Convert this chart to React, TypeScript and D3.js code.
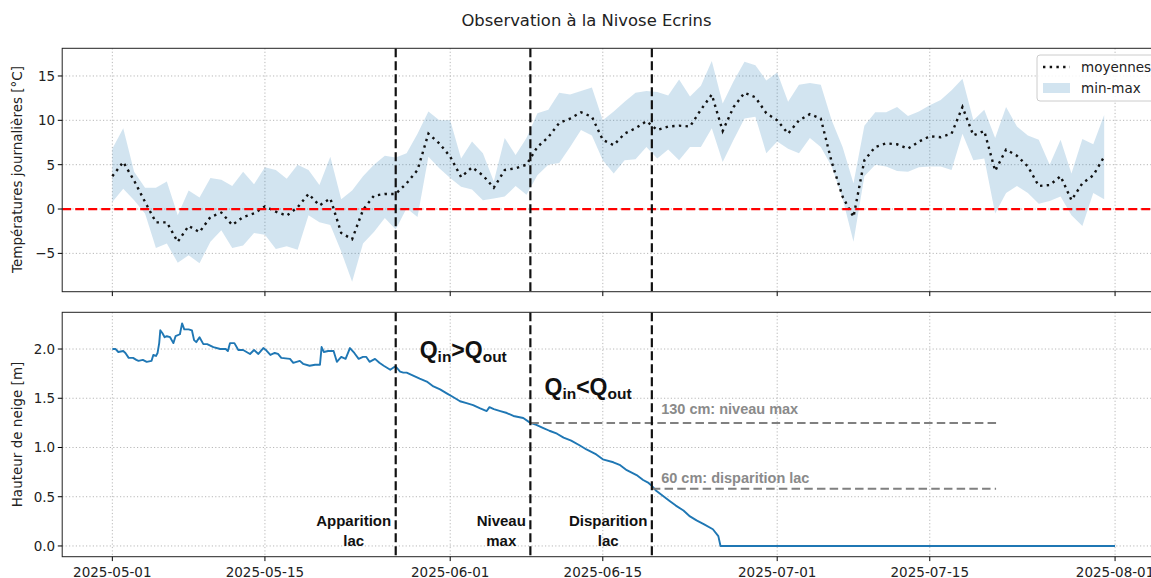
import React, { useRef, useLayoutEffect, useState } from 'react';
import * as d3 from 'd3';

// ---- Data ----
// daily temperatures from 2025-05-01 (index 0) to 2025-07-31 (index 91)
const tempMean = [
  3.7, 5.3, 3.2, 0.8, -1.5, -1.5, -3.7, -1.9, -2.6, -0.9,
  -0.4, -1.8, -0.9, -0.5, 0.3, -0.3, -0.75, 0.2, 1.7, 0.4,
  1.2, -2.7, -3.4, -0.1, 1.5, 1.7, 1.7, 2.9, 4.4, 8.5,
  7.4, 5.9, 3.6, 4.7, 3.8, 2.4, 4.4, 4.6, 5.0, 7.0,
  8.1, 9.7, 10.2, 10.9, 10.4, 7.8, 7.2, 8.5, 9.1, 9.9,
  8.9, 9.3, 9.4, 9.3, 11.2, 12.9, 8.8, 11.5, 13.1, 12.6,
  10.8, 10.0, 8.5, 10.0, 10.7, 10.2, 5.3, 1.4, -0.9, 5.5,
  7.0, 7.4, 7.3, 6.8, 7.6, 8.2, 8.1, 8.5, 11.5, 8.3,
  8.8, 4.3, 6.7, 6.0, 4.8, 2.6, 2.7, 3.7, 1.0, 2.9,
  3.8, 5.9,
];
const tempMax = [
  6.8, 9.1, 4.2, 2.4, 2.4, 3.1, -0.7, 2.1, 1.3, 3.5,
  3.3, 2.6, 4.2, 2.8, 4.7, 4.4, 3.4, 5.0, 4.4, 2.7,
  5.9, 1.1, 2.1, 3.7, 5.0, 6.0, 5.8, 6.3, 8.5, 11.0,
  10.0, 10.0, 5.7, 7.6, 6.3, 3.1, 8.0, 6.1, 8.0, 10.8,
  11.2, 13.1, 12.9, 13.3, 13.7, 10.0, 11.0, 12.1, 13.1, 13.3,
  13.2, 12.8, 14.6, 12.7, 13.9, 16.7, 11.9, 14.4, 16.6, 16.2,
  14.5, 15.4, 12.1, 14.0, 14.2, 14.0, 10.0, 7.0, 2.9, 9.4,
  10.9, 10.9, 11.5, 10.5, 11.0, 11.7, 12.3, 13.4, 14.7, 10.0,
  11.2, 8.0, 11.5, 9.3, 8.3, 7.8, 5.0, 7.8, 4.0, 7.9,
  7.3, 10.6,
];
const tempMin = [
  0.8, 2.3, 1.0, -0.5, -4.4, -3.9, -6.05, -5.2, -6.1, -3.7,
  -2.4, -4.4, -4.1, -2.7, -2.9, -4.5, -4.2, -4.6, -0.7, -1.5,
  -1.8, -4.8, -8.2, -3.9, -2.6, -1.0, -2.3, 0.1, -0.9, 5.9,
  4.6, 3.5, 2.5, 2.2, 1.0, 1.2, 1.4, 2.6, 1.6, 3.8,
  5.0, 5.2, 7.0, 8.9, 8.3, 5.5, 4.0, 5.5, 5.6, 7.0,
  5.7, 6.7, 5.5, 7.0, 7.0, 9.1, 5.3, 7.8, 10.2, 10.4,
  6.3, 7.6, 6.8, 6.3, 8.0, 7.0, 4.8, 1.2, -3.7, 3.7,
  5.0, 4.8, 4.3, 4.2, 4.7, 4.8, 4.8, 4.4, 8.5, 5.5,
  5.7, -0.5, 1.8, 2.6, 1.8, 0.6, 0.9, 1.4, -0.7, -1.9,
  1.8, 1.1,
];

// snow height: days since 2025-05-01 and height [m]
const snowDay = [
  0, 0.3, 0.55, 1.0, 1.2, 1.5, 1.9, 2.2, 2.4, 2.8, 3.15, 3.6, 3.76, 4.0, 4.15, 4.3, 4.4, 4.6, 4.8, 5.0,
  5.3, 5.6, 5.8, 6.2, 6.4, 6.6, 7.0, 7.3, 7.5, 7.7, 8.0, 8.35, 8.7, 9.27, 9.9, 10.4, 10.6, 10.8, 11.2, 11.56,
  12.0, 12.63, 13.0, 13.4, 13.85, 14.1, 14.5, 14.9, 15.2, 15.5, 16.3, 16.6, 17.2, 17.5, 18.1, 18.6, 19.05, 19.2, 19.4, 19.8,
  20.3, 20.6, 21.0, 21.4, 21.8, 22.2, 22.6, 23.0, 23.3, 23.6, 24.1, 24.5, 24.9, 25.5, 25.9, 26.1, 26.4, 26.7, 27.0, 27.6,
  28.2, 28.85, 29.46, 30.07, 30.68, 31.3, 31.9, 32.5, 33.1, 33.7, 34.35, 34.6, 35.0, 35.6, 36.2, 36.8, 37.7, 38.35, 38.9, 39.5,
  40.1, 40.8, 41.4, 42.1, 42.9, 43.5, 44.4, 45.0, 45.97, 46.6, 47.2, 48.1, 48.7, 49.2, 49.5, 49.9, 50.5, 51.1, 51.7, 52.4,
  53.0, 53.6, 54.3, 55.1, 55.6, 55.8, 92,
];
const snowHeight = [
  2.0, 2.0, 1.97, 1.98, 1.96, 1.91, 1.91, 1.89, 1.88, 1.89, 1.87, 1.88, 1.94, 1.93, 1.96, 2.06, 2.19, 2.16, 2.12, 2.13,
  2.12, 2.06, 2.13, 2.15, 2.26, 2.2, 2.2, 2.19, 2.09, 2.07, 2.12, 2.05, 2.05, 2.02, 2.0, 2.0, 1.98, 2.06, 2.06, 1.99,
  1.99, 1.95, 1.99, 1.95, 2.01, 1.99, 1.94, 1.96, 1.95, 1.91, 1.9, 1.86, 1.88, 1.85, 1.83, 1.84, 1.84, 2.02, 1.97, 1.98,
  1.98, 1.87, 1.92, 1.9, 2.01, 1.96, 1.9, 1.92, 1.92, 1.87, 1.9, 1.86, 1.83, 1.79, 1.82, 1.81, 1.77, 1.76, 1.76, 1.73,
  1.7, 1.67, 1.62, 1.59, 1.55, 1.51, 1.47, 1.45, 1.43, 1.4, 1.37, 1.41, 1.39, 1.37, 1.35, 1.32, 1.3, 1.25, 1.23, 1.2,
  1.17, 1.14, 1.1, 1.07, 1.02, 0.98, 0.93, 0.88, 0.85, 0.82, 0.77, 0.72, 0.67, 0.64, 0.61, 0.56, 0.51, 0.46, 0.41, 0.36,
  0.3, 0.26, 0.22, 0.17, 0.1, 0.0, 0.0,
];

const xTickLabels = ['2025-05-01', '2025-05-15', '2025-06-01', '2025-06-15', '2025-07-01', '2025-07-15', '2025-08-01'];
const tempTicks = [-5, 0, 5, 10, 15];
const snowTicks = [0, 0.5, 1.0, 1.5, 2.0];

const eventDates = ['2025-05-27T00:00:00Z', '2025-06-08T08:30:00Z', '2025-06-19T12:00:00Z'];
const eventLabels = [['Apparition', 'lac'], ['Niveau', 'max'], ['Disparition', 'lac']];

const levelValues = [1.25, 0.58];
const levelStarts = ['2025-06-08T08:30:00Z', '2025-06-19T12:00:00Z'];
const levelEnd = '2025-07-21T02:00:00Z';
const levelLabels = ['130 cm: niveau max', '60 cm: disparition lac'];
const levelLabelDate = '2025-06-20T08:30:00Z';
const levelLabelValues = [1.345, 0.64];

// ---- helpers ----
const BASE = Date.UTC(2025, 4, 1);
const DAY = 864e5;
const dayDate = (d: number) => new Date(BASE + d * DAY);
const parse = (s: string) => new Date(s.length === 10 ? s + 'T00:00:00Z' : s);

const W = 1151;
const H = 578;
const left = 62.2;
const right = 1165.2;
const topP = { y0: 48.3, y1: 291.7 };
const botP = { y0: 312.3, y1: 556.7 };

const x = d3.scaleUtc().domain([dayDate(-4.6), dayDate(96.6)]).range([left, right]);
const yT = d3.scaleLinear().domain([-9.32, 18.12]).range([topP.y1, topP.y0]);
const yS = d3.scaleLinear().domain([-0.109, 2.373]).range([botP.y1, botP.y0]);

const FONT = 'DejaVu Sans, sans-serif';
const BOLD = 'Liberation Sans, Arial, sans-serif';
const BLUE = '#1f77b4';

function EventLabel({ lx, lines }: { lx: number; lines: string[] }) {
  const ref = useRef<SVGTextElement>(null);
  const [w, setW] = useState(0);
  useLayoutEffect(() => {
    if (ref.current) {
      let m = 0;
      ref.current.querySelectorAll('tspan').forEach((t) => {
        m = Math.max(m, (t as any).getComputedTextLength());
      });
      setW(m);
    }
  }, []);
  const cx = lx - 4.5 - w / 2;
  return (
    <text ref={ref} fontFamily={BOLD} fontWeight="bold" fontSize={15} fill="#111" textAnchor="middle">
      {lines.map((l, i) => (
        <tspan key={i} x={cx} y={526 + i * 20}>{l}</tspan>
      ))}
    </text>
  );
}

export default function App() {
  const days = d3.range(tempMean.length);
  const xTicks = xTickLabels.map(parse);

  const band = d3
    .area<number>()
    .x((i) => x(dayDate(i)))
    .y0((i) => yT(tempMin[i]))
    .y1((i) => yT(tempMax[i]));
  const meanLine = d3
    .line<number>()
    .x((i) => x(dayDate(i)))
    .y((i) => yT(tempMean[i]));
  const snowLine = d3
    .line<number>()
    .x((i) => x(dayDate(snowDay[i])))
    .y((i) => yS(snowHeight[i]));

  const grid = (p: { y0: number; y1: number }, ticks: number[], ys: (v: number) => number) => (
    <g stroke="#b0b0b0" strokeWidth={0.9} strokeDasharray="1.2 2.2">
      {xTicks.map((t, i) => (
        <line key={'gx' + i} x1={x(t)} x2={x(t)} y1={p.y0} y2={p.y1} />
      ))}
      {ticks.map((v, i) => (
        <line key={'gy' + i} x1={left} x2={right} y1={ys(v)} y2={ys(v)} />
      ))}
    </g>
  );

  const axisTicks = (p: { y0: number; y1: number }, ticks: number[], ys: (v: number) => number, fmt: (v: number) => string, labels: boolean) => (
    <g>
      {xTicks.map((t, i) => (
        <g key={'tx' + i}>
          <line x1={x(t)} x2={x(t)} y1={p.y1} y2={p.y1 + 4.4} stroke="#000" strokeWidth={1} />
          {labels && (
            <text x={x(t)} y={576.5} textAnchor="middle" fontFamily={FONT} fontSize={13.5} fill="#222">
              {xTickLabels[i]}
            </text>
          )}
        </g>
      ))}
      {ticks.map((v, i) => (
        <g key={'ty' + i}>
          <line x1={left - 4.4} x2={left} y1={ys(v)} y2={ys(v)} stroke="#000" strokeWidth={1} />
          <text x={left - 7} y={ys(v)} dy="0.36em" textAnchor="end" fontFamily={FONT} fontSize={13.5} fill="#222">
            {fmt(v)}
          </text>
        </g>
      ))}
    </g>
  );

  const evX = eventDates.map((d) => x(parse(d)));

  return (
    <svg width={W} height={H} style={{ position: 'absolute', left: 0, top: 0, background: '#fff' }}>
      <defs>
        <clipPath id="clipTop">
          <rect x={left} y={topP.y0} width={right - left} height={topP.y1 - topP.y0} />
        </clipPath>
        <clipPath id="clipBot">
          <rect x={left} y={botP.y0} width={right - left} height={botP.y1 - botP.y0} />
        </clipPath>
      </defs>
      <rect width={W} height={H} fill="#fff" />

      <text x={586.5} y={25.5} textAnchor="middle" fontFamily={FONT} fontSize={16.4} fill="#222">
        Observation à la Nivose Ecrins
      </text>

      {/* ---------- top panel ---------- */}
      {grid(topP, tempTicks, yT)}
      <g clipPath="url(#clipTop)">
        <path d={band(days) || ''} fill={BLUE} fillOpacity={0.2} />
        <path d={meanLine(days) || ''} fill="none" stroke="#111" strokeWidth={2.4} strokeDasharray="2.4 4.3" />
        <line x1={left} x2={right} y1={yT(0)} y2={yT(0)} stroke="#ff0000" strokeWidth={2.2} strokeDasharray="9 4" />
        {evX.map((ex, i) => (
          <line key={i} x1={ex} x2={ex} y1={topP.y0} y2={topP.y1} stroke="#111" strokeWidth={2.2} strokeDasharray="9 4" />
        ))}
      </g>
      <rect x={left} y={topP.y0} width={right - left} height={topP.y1 - topP.y0} fill="none" stroke="#222" strokeWidth={1} />
      {axisTicks(topP, tempTicks, yT, (v) => (v < 0 ? '\u2212' + Math.abs(v) : String(v)), false)}
      <text transform={`translate(22,${(topP.y0 + topP.y1) / 2 - 0.5}) rotate(-90)`} textAnchor="middle" fontFamily={FONT} fontSize={13.5} fill="#222">
        Températures journalières [°C]
      </text>

      {/* legend */}
      <g>
        <rect x={1037} y={55} width={140} height={46} rx={3} fill="#fff" fillOpacity={0.85} stroke="#cccccc" strokeWidth={1} />
        <line x1={1043} x2={1070} y1={67} y2={67} stroke="#111" strokeWidth={2.4} strokeDasharray="2.4 4.3" />
        <text x={1081} y={67} dy="0.36em" fontFamily={FONT} fontSize={13.5} fill="#222">moyennes</text>
        <rect x={1043} y={83} width={27} height={10} fill={BLUE} fillOpacity={0.2} />
        <text x={1081} y={88} dy="0.36em" fontFamily={FONT} fontSize={13.5} fill="#222">min-max</text>
      </g>

      {/* ---------- bottom panel ---------- */}
      {grid(botP, snowTicks, yS)}
      <g clipPath="url(#clipBot)">
        <path d={snowLine(d3.range(snowDay.length)) || ''} fill="none" stroke={BLUE} strokeWidth={1.9} strokeLinejoin="round" />
        {levelValues.map((v, i) => (
          <line
            key={'lv' + i}
            x1={x(parse(levelStarts[i]))}
            x2={x(parse(levelEnd))}
            y1={yS(v)}
            y2={yS(v)}
            stroke="#808080"
            strokeWidth={2}
            strokeDasharray="8.5 4.2"
          />
        ))}
        {evX.map((ex, i) => (
          <line key={i} x1={ex} x2={ex} y1={botP.y0} y2={botP.y1} stroke="#111" strokeWidth={2.2} strokeDasharray="9 4" />
        ))}
      </g>
      <rect x={left} y={botP.y0} width={right - left} height={botP.y1 - botP.y0} fill="none" stroke="#222" strokeWidth={1} />
      {axisTicks(botP, snowTicks, yS, (v) => v.toFixed(1), true)}
      <text transform={`translate(22,${(botP.y0 + botP.y1) / 2}) rotate(-90)`} textAnchor="middle" fontFamily={FONT} fontSize={13.5} fill="#222">
        Hauteur de neige [m]
      </text>

      {levelLabels.map((l, i) => (
        <text key={'ll' + i} x={x(parse(levelLabelDate))} y={yS(levelLabelValues[i])} fontFamily={BOLD} fontWeight="bold" fontSize={14.5} fill="#8a8a8a">
          {l}
        </text>
      ))}

      <text x={x(dayDate(28.2))} y={yS(1.91)} fontFamily={BOLD} fontWeight="bold" fontSize={23} fill="#111">
        Q<tspan fontSize={15.5} dy={4}>in</tspan>
        <tspan fontSize={23} dy={-4}>&gt;Q</tspan>
        <tspan fontSize={15.5} dy={4}>out</tspan>
      </text>
      <text x={x(dayDate(39.65))} y={yS(1.53)} fontFamily={BOLD} fontWeight="bold" fontSize={23} fill="#111">
        Q<tspan fontSize={15.5} dy={4}>in</tspan>
        <tspan fontSize={23} dy={-4}>&lt;Q</tspan>
        <tspan fontSize={15.5} dy={4}>out</tspan>
      </text>

      {eventLabels.map((lines, i) => (
        <EventLabel key={'ev' + i} lx={evX[i]} lines={lines} />
      ))}
    </svg>
  );
}
